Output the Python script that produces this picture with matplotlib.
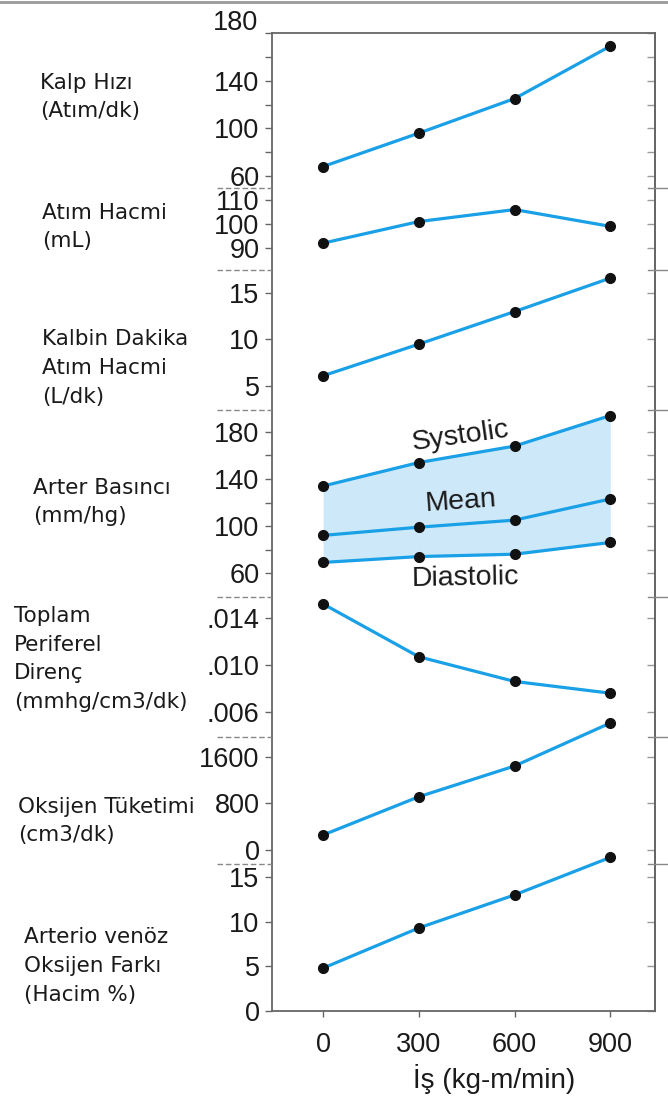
import matplotlib.pyplot as plt
from matplotlib.lines import Line2D

plt.rcParams['font.family'] = ['Liberation Sans', 'DejaVu Sans']

# work load (kg-m/min)
work = [0, 300, 600, 900]

# cardiovascular responses
heart_rate = [68, 96, 125, 169]
stroke_volume = [92, 101, 106, 99]
cardiac_output = [6.1, 9.5, 13.0, 16.6]
systolic = [134, 154, 168, 194]
mean_bp = [92, 99, 105, 123]
diastolic = [69, 74, 76, 86]
resistance = [0.0152, 0.0107, 0.0086, 0.0076]
oxygen_use = [258, 916, 1445, 2185]
av_diff = [4.8, 9.3, 13.0, 17.2]

side_labels = [
    "Kalp Hızı\n(Atım/dk)",
    "Atım Hacmi\n(mL)",
    "Kalbin Dakika\nAtım Hacmi\n(L/dk)",
    "Arter Basıncı\n(mm/hg)",
    "Toplam\nPeriferel\nDirenç\n(mmhg/cm3/dk)",
    "Oksijen Tüketimi\n(cm3/dk)",
    "Arterio venöz\nOksijen Farkı\n(Hacim %)",
]
major_ticks = [
    [60, 100, 140, 180],
    [90, 100, 110],
    [5, 10, 15],
    [60, 100, 140, 180],
    [0.006, 0.010, 0.014],
    [0, 800, 1600],
    [0, 5, 10, 15],
]
tick_labels = [
    ["60", "100", "140", ""],
    ["90", "100", "110"],
    ["5", "10", "15"],
    ["60", "100", "140", "180"],
    [".006", ".010", ".014"],
    ["0", "800", "1600"],
    ["0", "5", "10", "15"],
]
minor_ticks = [[80, 120, 160], [], [], [80, 120, 160], [], [], []]
y_limits = [(50, 180), (80.8, 115), (2.42, 17.47), (39.6, 198.7),
            (0.00387, 0.01579), (-241, 1944), (0, 16.46)]
series = [heart_rate, stroke_volume, cardiac_output, None,
          resistance, oxygen_use, av_diff]

W, H = 668, 1097
fig = plt.figure(figsize=(W / 100, H / 100), dpi=100)

box_left, box_right = 272, 655
edges = [33, 188, 270, 410, 597, 737, 864, 1011]
label_x = [40, 42, 42, 33, 14, 18, 24]
label_y = [97, 227, 368, 502, 659, 821, 966]

line_col = '#1aa0e6'
spine_col = '#666666'
text_col = '#1a1a1a'
num_size = 19.5
axes = []

for i in range(7):
    top, bottom = edges[i], edges[i + 1]
    ax = fig.add_axes([box_left / W, 1 - bottom / H,
                       (box_right - box_left) / W, (bottom - top) / H])
    ax.set_facecolor('none')
    ax.set_xlim(-160, 1040)
    ax.set_ylim(*y_limits[i])
    ax.set_yticks(major_ticks[i], tick_labels[i])
    ax.set_yticks(minor_ticks[i], minor=True)
    ax.tick_params(axis='y', which='both', direction='out', length=5,
                   width=1, color=spine_col, pad=4, labelsize=num_size,
                   labelcolor=text_col)
    for side in ['left', 'right', 'top', 'bottom']:
        ax.spines[side].set_color(spine_col)
        ax.spines[side].set_linewidth(1.3)
    ax.spines['top'].set_visible(i == 0)
    ax.spines['bottom'].set_visible(i == 6)

    # inward ticks on the right spine
    sec = ax.secondary_yaxis('right')
    sec.set_yticks(major_ticks[i] + minor_ticks[i])
    sec.set_yticklabels([])
    sec.tick_params(direction='in', length=6, width=1, color='#999999')
    sec.spines['right'].set_color(spine_col)
    sec.spines['right'].set_linewidth(1.3)

    if i == 6:
        ax.set_xticks(work, [str(w) for w in work])
        ax.tick_params(axis='x', direction='out', length=4, width=1,
                       color=spine_col, pad=11, labelsize=num_size,
                       labelcolor=text_col)
    else:
        ax.set_xticks([])

    if series[i] is not None:
        ax.plot(work, series[i], color=line_col, lw=2.3, marker='o',
                ms=7, mfc='#111111', mec='#111111', clip_on=False, zorder=3)

    fig.text(label_x[i] / W, 1 - label_y[i] / H, side_labels[i],
             family='DejaVu Sans', fontsize=15.5, color=text_col,
             ha='left', va='center', linespacing=1.55)
    axes.append(ax)

# arterial pressure band
ax = axes[3]
ax.fill_between(work, diastolic, systolic, color='#cde8f9', lw=0, zorder=1)
for vals in [systolic, mean_bp, diastolic]:
    ax.plot(work, vals, color=line_col, lw=2.3, marker='o', ms=7,
            mfc='#111111', mec='#111111', clip_on=False, zorder=3)
ax.text(431, 176, "Systolic", fontsize=20.5, rotation=8, ha='center',
        va='center', color=text_col)
ax.text(431, 120.5, "Mean", fontsize=20.5, rotation=4, ha='center',
        va='center', color=text_col)
ax.text(447, 55.7, "Diastolic", fontsize=20.5, rotation=1, ha='center',
        va='center', color=text_col)

# top label of the heart rate scale sits above the frame
fig.text(258 / W, 1 - 23 / H, "180", fontsize=num_size, color=text_col,
         ha='right', va='center')

# panel separators
for y in edges[1:-1]:
    yf = 1 - y / H
    fig.add_artist(Line2D([217 / W, 272 / W], [yf, yf], color='#888888',
                          lw=1, ls=(0, (4, 2)), transform=fig.transFigure))
    fig.add_artist(Line2D([648 / W, 668 / W], [yf, yf], color='#888888',
                          lw=1, transform=fig.transFigure))

fig.add_artist(Line2D([0, 1], [1 - 1.5 / H] * 2, color='#999999', lw=2,
                      transform=fig.transFigure))

fig.text(494 / W, 1 - 1079 / H, "İş (kg-m/min)", fontsize=20,
         color=text_col, ha='center', va='center')

fig.savefig("out.png", dpi=100)
